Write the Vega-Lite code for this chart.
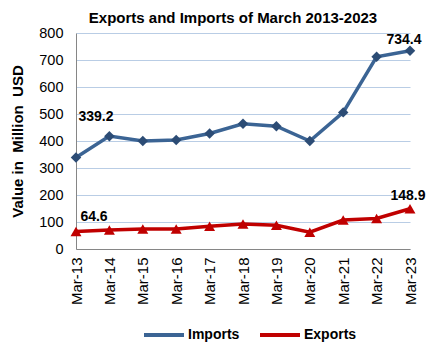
{
  "$schema": "https://vega.github.io/schema/vega-lite/v6.json",
  "width": 334,
  "height": 216,
  "autosize": {"type": "none"},
  "padding": {"left": 76, "top": 33, "right": 22, "bottom": 103},
  "background": "white",
  "config": {
    "font": "Liberation Sans",
    "view": {"stroke": null}
  },
  "title": {
    "text": "Exports and Imports of March 2013-2023",
    "fontSize": 15,
    "fontWeight": "bold",
    "font": "Liberation Sans",
    "color": "black",
    "anchor": "middle",
    "dx": -10,
    "offset": -1
  },
  "data": {
    "values": [
      {"year": "Mar-13", "series": "Imports", "value": 339.2},
      {"year": "Mar-14", "series": "Imports", "value": 418},
      {"year": "Mar-15", "series": "Imports", "value": 400},
      {"year": "Mar-16", "series": "Imports", "value": 404},
      {"year": "Mar-17", "series": "Imports", "value": 428},
      {"year": "Mar-18", "series": "Imports", "value": 464},
      {"year": "Mar-19", "series": "Imports", "value": 455},
      {"year": "Mar-20", "series": "Imports", "value": 400},
      {"year": "Mar-21", "series": "Imports", "value": 506},
      {"year": "Mar-22", "series": "Imports", "value": 712},
      {"year": "Mar-23", "series": "Imports", "value": 734.4},
      {"year": "Mar-13", "series": "Exports", "value": 64.6},
      {"year": "Mar-14", "series": "Exports", "value": 70},
      {"year": "Mar-15", "series": "Exports", "value": 74},
      {"year": "Mar-16", "series": "Exports", "value": 74},
      {"year": "Mar-17", "series": "Exports", "value": 84},
      {"year": "Mar-18", "series": "Exports", "value": 93},
      {"year": "Mar-19", "series": "Exports", "value": 88},
      {"year": "Mar-20", "series": "Exports", "value": 62},
      {"year": "Mar-21", "series": "Exports", "value": 107},
      {"year": "Mar-22", "series": "Exports", "value": 113},
      {"year": "Mar-23", "series": "Exports", "value": 148.9}
    ]
  },
  "encoding": {
    "x": {
      "field": "year", "type": "ordinal", "sort": null,
      "scale": {"type": "point", "padding": 0},
      "axis": {
        "title": null, "labelAngle": -90, "labelFontSize": 15, "labelColor": "black",
        "labelPadding": 8, "ticks": false, "domainColor": "#868686", "domainWidth": 1, "grid": false
      }
    },
    "y": {
      "field": "value", "type": "quantitative",
      "scale": {"domain": [0, 800], "nice": false},
      "axis": {
        "title": "Value in\u00a0 Million\u00a0 USD", "titleFontSize": 15, "titleFontWeight": "bold", "titleColor": "black",
        "titlePadding": 13,
        "values": [0, 100, 200, 300, 400, 500, 600, 700, 800],
        "labelFontSize": 14.5, "labelColor": "black", "labelPadding": 13, "ticks": false,
        "domainColor": "#868686", "gridColor": "#B9CDE5", "gridWidth": 1
      }
    }
  },
  "layer": [
    {
      "mark": {"type": "line", "strokeWidth": 3.5},
      "encoding": {
        "color": {
          "field": "series", "type": "nominal",
          "scale": {"domain": ["Imports", "Exports"], "range": ["#3B6494", "#C00000"]},
          "legend": {
            "title": null, "orient": "none", "direction": "horizontal",
            "legendX": 66, "legendY": 280,
            "symbolType": "stroke", "symbolSize": 1600, "symbolStrokeWidth": 4,
            "labelFontSize": 14, "labelFontWeight": "bold", "labelColor": "black",
            "labelOffset": 2, "columnPadding": 12
          }
        }
      }
    },
    {
      "transform": [{"filter": "datum.series == 'Imports'"}],
      "mark": {"type": "point", "shape": "diamond", "filled": true, "size": 110, "color": "#2C4C75", "opacity": 1}
    },
    {
      "transform": [{"filter": "datum.series == 'Exports'"}],
      "mark": {"type": "point", "shape": "triangle-up", "filled": true, "size": 120, "color": "#C00000", "opacity": 1}
    },
    {
      "transform": [{"filter": "datum.series == 'Imports' && datum.year == 'Mar-13'"}],
      "mark": {"type": "text", "fontSize": 14, "fontWeight": "bold", "color": "black", "dx": 20, "dy": -40},
      "encoding": {"text": {"field": "value", "type": "quantitative", "format": ".1f"}}
    },
    {
      "transform": [{"filter": "datum.series == 'Imports' && datum.year == 'Mar-23'"}],
      "mark": {"type": "text", "fontSize": 14, "fontWeight": "bold", "color": "black", "dx": -6, "dy": -11},
      "encoding": {"text": {"field": "value", "type": "quantitative", "format": ".1f"}}
    },
    {
      "transform": [{"filter": "datum.series == 'Exports' && datum.year == 'Mar-13'"}],
      "mark": {"type": "text", "fontSize": 14, "fontWeight": "bold", "color": "black", "dx": 18, "dy": -15},
      "encoding": {"text": {"field": "value", "type": "quantitative", "format": ".1f"}}
    },
    {
      "transform": [{"filter": "datum.series == 'Exports' && datum.year == 'Mar-23'"}],
      "mark": {"type": "text", "fontSize": 14, "fontWeight": "bold", "color": "black", "dx": -2, "dy": -13},
      "encoding": {"text": {"field": "value", "type": "quantitative", "format": ".1f"}}
    }
  ]
}
